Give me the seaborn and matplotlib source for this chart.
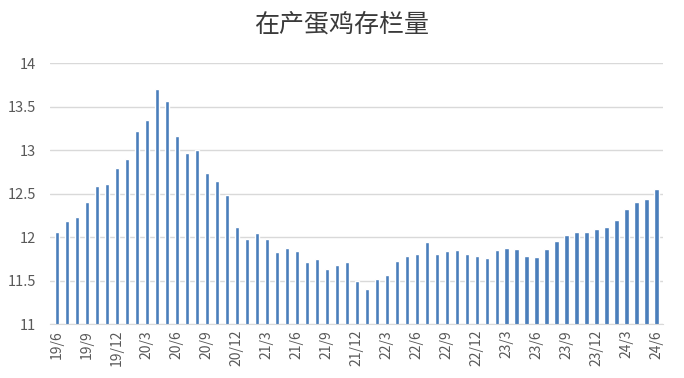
import seaborn as sns
import matplotlib.pyplot as plt
import pandas as pd

# monthly stock of laying hens (billion), 2019/6 - 2024/6
months = [f"{y % 100}/{m}" for y in range(2019, 2025) for m in range(1, 13)]
months = months[5:5 + 61]
values = [12.06, 12.19, 12.23, 12.40, 12.59, 12.61, 12.80, 12.90, 13.22, 13.35,
          13.70, 13.57, 13.16, 12.97, 13.00, 12.74, 12.65, 12.48, 12.12, 11.98,
          12.05, 11.98, 11.83, 11.88, 11.84, 11.72, 11.75, 11.64, 11.68, 11.72,
          11.50, 11.41, 11.52, 11.57, 11.73, 11.78, 11.81, 11.94, 11.81, 11.84,
          11.85, 11.81, 11.79, 11.76, 11.85, 11.88, 11.86, 11.79, 11.77, 11.87,
          11.96, 12.03, 12.06, 12.06, 12.09, 12.12, 12.20, 12.33, 12.40, 12.44,
          12.55]
title = "在产蛋鸡存栏量"

df = pd.DataFrame({"month": months, "value": values})

sns.set_style("white")
plt.rcParams['font.family'] = ['Noto Sans CJK SC', 'DejaVu Sans']

fig, ax = plt.subplots(figsize=(6.84, 3.78), dpi=100)
sns.barplot(data=df, x="month", y="value", color="#4a7ebb", width=0.42,
            saturation=1, ax=ax)

ax.set_ylim(11, 14)
ax.set_yticks([11, 11.5, 12, 12.5, 13, 13.5, 14])
ax.set_yticklabels(["11", "11.5", "12", "12.5", "13", "13.5", "14"])
ax.yaxis.grid(True, color="#d9d9d9", linewidth=1)
ax.set_axisbelow(True)

pos = list(range(0, len(months), 3))
ax.set_xticks(pos)
ax.set_xticklabels([months[i] for i in pos], rotation=90)
ax.set_xticks([p - 0.5 for p in pos] + [len(months) - 0.5], minor=True)
ax.tick_params(axis="x", which="major", length=0, labelsize=10, colors="#595959", pad=4)
ax.tick_params(axis="x", which="minor", length=4, color="#d9b3a8")
ax.tick_params(axis="y", length=0, labelsize=10.5, colors="#595959", pad=10)
ax.set_xlim(-0.7, len(months) - 0.3)

for s in ["top", "right", "left"]:
    ax.spines[s].set_visible(False)
ax.spines["bottom"].set_color("#d9d9d9")

ax.set_xlabel("")
ax.set_ylabel("")
fig.text(0.5, 0.935, title, fontsize=18, color="#3a3a3a", ha="center", va="center")

fig.subplots_adjust(left=0.073, right=0.97, top=0.833, bottom=0.142)
fig.savefig("out.png", dpi=100)
